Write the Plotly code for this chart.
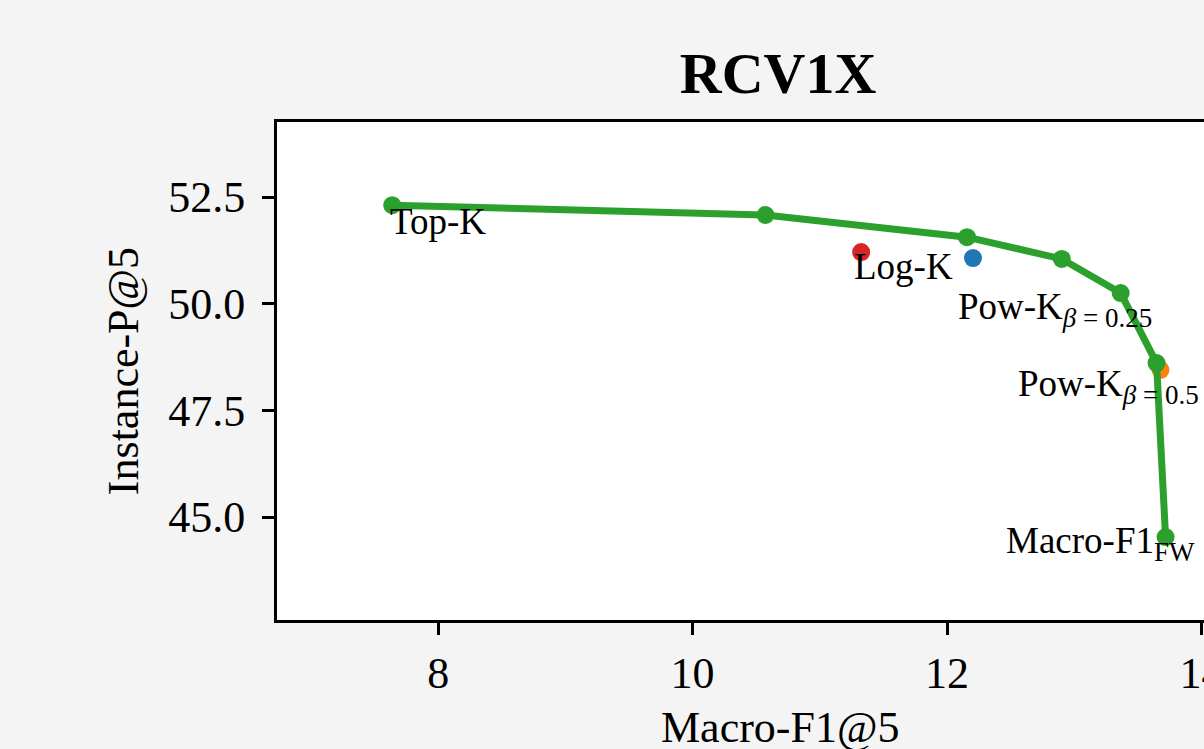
import plotly.graph_objects as go

# Data
frontier_x = [7.639, 10.573, 12.157, 12.902, 13.365, 13.647, 13.718]
frontier_y = [52.31, 52.08, 51.56, 51.05, 50.25, 48.61, 44.53]

logk_x = [11.325]
logk_y = [51.21]
powk25_x = [12.204]
powk25_y = [51.07]
powk50_x = [13.678]
powk50_y = [48.45]

SUB = "<sub><span style='font-size:27px'>{}</span></sub>"
label_texts = ["Top-K", "Log-K",
               "Pow-K" + SUB.format("<i>β</i>&nbsp;=&nbsp;0.25"),
               "Pow-K" + SUB.format("<i>β</i>&nbsp;=&nbsp;0.5"),
               "Macro-F1" + SUB.format("FW")]

x_title = "Macro-F1@5"
y_title = "Instance-P@5"
title_text = "RCV1X"

FONT = "Liberation Serif"

fig = go.Figure()
fig.add_trace(go.Scatter(x=logk_x, y=logk_y, mode="markers",
                         marker=dict(color="#d62728", size=18), showlegend=False))
fig.add_trace(go.Scatter(x=powk25_x, y=powk25_y, mode="markers",
                         marker=dict(color="#1f77b4", size=18), showlegend=False))
fig.add_trace(go.Scatter(x=powk50_x, y=powk50_y, mode="markers",
                         marker=dict(color="#ff7f0e", size=18), showlegend=False))
fig.add_trace(go.Scatter(x=frontier_x, y=frontier_y, mode="lines+markers",
                         line=dict(color="#2ca02c", width=7),
                         marker=dict(color="#2ca02c", size=18), showlegend=False))

# label anchors (data coords, top-left of text)
label_pos = [(7.603, 52.45), (11.251, 51.40), (12.067, 50.46),
             (12.546, 48.655), (12.444, 44.976)]
for (lx, ly), t in zip(label_pos, label_texts):
    fig.add_annotation(x=lx, y=ly, xref="x", yref="y", text=t, showarrow=False,
                       xanchor="left", yanchor="top",
                       font=dict(family=FONT, size=37, color="black"))

# x-axis title (centered on the original, wider plot area)
fig.add_annotation(x=0.5426, y=0, xref="paper", yref="paper", text=x_title,
                   showarrow=False, xanchor="center", yanchor="top", yshift=-81,
                   font=dict(family=FONT, size=44, color="black"))

fig.update_layout(
    width=1204, height=749, autosize=False,
    margin=dict(l=277, r=0, t=122, b=129, autoexpand=False),
    paper_bgcolor="#f4f4f4", plot_bgcolor="white",
    title=dict(text="<b>" + title_text + "</b>", x=0.5405, xref="paper", xanchor="center",
               y=0.93, yref="container", yanchor="top", automargin=False,
               font=dict(family=FONT, size=58, color="black")),
    font=dict(family=FONT, color="black"),
)
fig.update_xaxes(range=[6.733, 14.02], showgrid=False, zeroline=False, automargin=False,
                 showline=True, linecolor="black", linewidth=3, mirror=True,
                 ticks="outside", ticklen=12, tickwidth=2.5, tickcolor="black",
                 tick0=0, dtick=2, ticklabeloverflow="allow", ticklabelstandoff=0,
                 tickfont=dict(family=FONT, size=44, color="black"))
fig.update_yaxes(range=[42.587, 54.26], showgrid=False, zeroline=False, automargin=False,
                 showline=True, linecolor="black", linewidth=3, mirror=False,
                 ticks="outside", ticklen=12, tickwidth=2.5, tickcolor="black",
                 tick0=45, dtick=2.5, tickformat=".1f", ticklabelstandoff=8,
                 tickfont=dict(family=FONT, size=44, color="black"),
                 title=dict(text=y_title, standoff=16,
                            font=dict(family=FONT, size=44, color="black")))

fig.write_html("out.html", config={"displayModeBar": False},
               post_script="document.body.style.margin='0';"
                           "document.body.style.overflow='hidden';")
